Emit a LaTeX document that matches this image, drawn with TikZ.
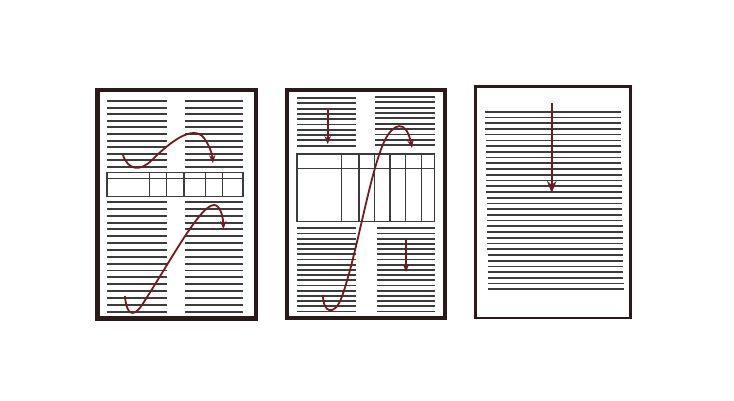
\documentclass[tikz,border=0pt]{standalone}
\usetikzlibrary{arrows.meta}
\definecolor{framec}{HTML}{2A1A1A}
\definecolor{linec}{HTML}{3C3C3C}
\definecolor{arrc}{HTML}{701A22}
\tikzset{
  pageframe/.style={draw=framec, line width=4.3pt, fill=white},
  txt/.style={draw=linec, line width=1.9pt},
  tbl/.style={draw=linec, line width=1.1pt},
  flow/.style={draw=arrc, line width=1.8pt, -{Stealth[length=8pt,width=6.5pt]}},
  bigflow/.style={draw=arrc, line width=2.2pt, -{Stealth[length=12pt,width=9.5pt]}}
}
\begin{document}
\begin{tikzpicture}[x=1pt,y=-1pt]
\useasboundingbox[fill=white] (0,0) rectangle (734,400);
% ---------- Page 1 ----------
\draw[pageframe] (97.5,90) rectangle (256,318.5);
\foreach \i in {0,...,10}{
  \draw[txt] (107,101+6.6*\i) -- (167,101+6.6*\i);
  \draw[txt] (185,101+6.6*\i) -- (243,101+6.6*\i);
}
\foreach \i in {0,...,16}{
  \draw[txt] (107,202+6.85*\i) -- (167,202+6.85*\i);
  \draw[txt] (185,202+6.85*\i) -- (243,202+6.85*\i);
}
\draw[tbl, fill=white] (107,172.5) rectangle (243,196.5);
\draw[tbl] (107,178.5) -- (243,178.5);
\foreach \x in {149.3,166.7,184,205.7,222.7}{\draw[tbl] (\x,172.5) -- (\x,196.5);}
\draw[flow] (123,155) .. controls (128,170) and (140,172) .. (152,160)
  .. controls (170,142) and (193,124) .. (204,138) .. controls (209,145) and (212,153) .. (213,163);
\draw[flow] (125,296) .. controls (126,312) and (132,320) .. (142,305)
  .. controls (170,262) and (200,205) .. (214,205) .. controls (220,205) and (223,216) .. (223.5,229);
% ---------- Page 2 ----------
\draw[pageframe] (287,90) rectangle (445,318);
\foreach \i in {0,...,9}{
  \draw[txt] (297,98+5.3*\i) -- (356,98+5.3*\i);
  \draw[txt] (375,97+5.35*\i) -- (435,97+5.35*\i);
}
\foreach \i in {0,...,16}{
  \draw[txt] (297,228.3+5.2*\i) -- (356,228.3+5.2*\i);
  \draw[txt] (377,228.3+5.2*\i) -- (434.5,228.3+5.2*\i);
}
\draw[tbl, fill=white] (297,154) rectangle (434.5,221.7);
\draw[tbl] (297,168.3) -- (434.5,168.3);
\foreach \x in {341.7,359,374.3,390,405.7,421.7}{\draw[tbl] (\x,154) -- (\x,221.7);}
\draw[flow] (327.7,110) -- (327.7,144);
\draw[flow] (406,239) -- (406,272);
\draw[flow] (323,295) .. controls (323,313) and (334,316) .. (341,299)
  .. controls (356,260) and (370,170) .. (385,140) .. controls (393,124) and (406,118) .. (412,148);
% ---------- Page 3 ----------
\draw[draw=framec, line width=2.6pt, fill=white] (475.5,86.5) rectangle (630.5,318);
\foreach \i in {0,...,31}{
  \draw[txt, line width=1.7pt] (485+0.1*\i,111.7+5.73*\i) -- (620.5+0.1*\i,111.7+5.73*\i);
}
\draw[bigflow] (551.7,102.5) -- (551.7,193);
\end{tikzpicture}
\end{document}
